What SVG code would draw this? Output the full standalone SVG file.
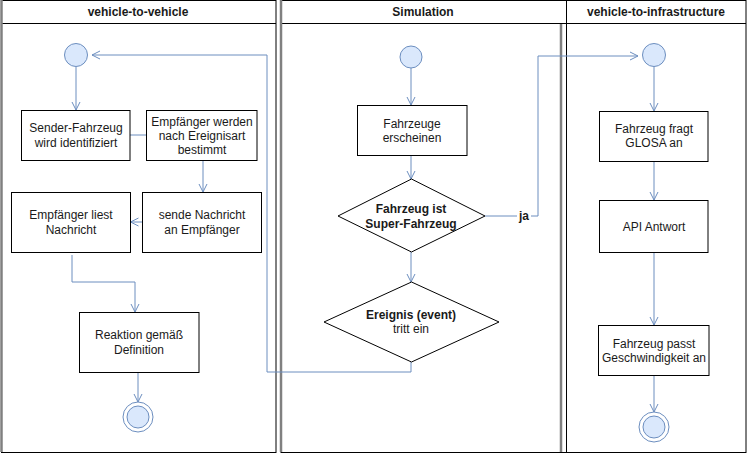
<svg xmlns="http://www.w3.org/2000/svg" width="747" height="454" viewBox="0 0 747 454">
<style>
text{font-family:"Liberation Sans",Arial,sans-serif;font-size:12px;fill:#1a1a1a;text-anchor:middle}
.b{font-weight:bold}
.lane{fill:#fff;stroke:#000;stroke-width:1}
.gray{stroke:#808080;stroke-width:2.5;fill:none}
.box{fill:#fff;stroke:#000;stroke-width:1}
.st{fill:#dae8fc;stroke:#6c8ebf;stroke-width:1}
.c{fill:none;stroke:#6c8ebf;stroke-width:1}
</style>
<defs>
<marker id="a" viewBox="0 0 10 10" refX="9" refY="5" markerWidth="10" markerHeight="10" orient="auto" markerUnits="userSpaceOnUse">
<path d="M1,1 L9,5 L1,9" fill="none" stroke="#6c8ebf" stroke-width="1"/>
</marker>
</defs>
<rect width="747" height="454" fill="#fff"/>
<g id="lane-v2v">
<rect class="lane" x="1.5" y="0.5" width="274.5" height="452"/>
<line x1="1.5" y1="23.5" x2="276" y2="23.5" stroke="#000"/>
<line class="gray" x1="1.5" y1="0" x2="1.5" y2="452"/>
<text class="b" x="138" y="16">vehicle-to-vehicle</text>
</g>
<g id="lane-sim">
<rect class="lane" x="281" y="0.5" width="285.5" height="452"/>
<line x1="281" y1="23.5" x2="566.5" y2="23.5" stroke="#000"/>
<line class="gray" x1="281" y1="0" x2="281" y2="452"/>
<line class="gray" x1="561" y1="24" x2="561" y2="452"/>
<text class="b" x="423" y="16">Simulation</text>
</g>
<g id="lane-v2i">
<rect class="lane" x="566.5" y="0.5" width="179.5" height="452"/>
<line x1="566.5" y1="23.5" x2="746" y2="23.5" stroke="#000"/>
<text class="b" x="656" y="16">vehicle-to-infrastructure</text>
</g>
<g id="connectors">
<path class="c" d="M76,67 V110" marker-end="url(#a)"/>
<path class="c" d="M130,135 H146"/>
<path class="c" d="M203,160 V192" marker-end="url(#a)"/>
<path class="c" d="M142,222 H130.5" marker-end="url(#a)"/>
<path class="c" d="M72,255 V282 H135 V312" marker-end="url(#a)"/>
<path class="c" d="M138,372 V402" marker-end="url(#a)"/>
<path class="c" d="M411,362 V372 H267 V55 H92" marker-end="url(#a)"/>
<path class="c" d="M411,68 V105" marker-end="url(#a)"/>
<path class="c" d="M411,155 V179" marker-end="url(#a)"/>
<path class="c" d="M411,252 V282" marker-end="url(#a)"/>
<path class="c" d="M485,216 H538 V56 H638" marker-end="url(#a)"/>
<rect x="517" y="208" width="14" height="15" fill="#fff"/>
<text class="b" x="524" y="220">ja</text>
<path class="c" d="M654,67 V111" marker-end="url(#a)"/>
<path class="c" d="M654,161 V200" marker-end="url(#a)"/>
<path class="c" d="M654,252 V325" marker-end="url(#a)"/>
<path class="c" d="M654,375 V412" marker-end="url(#a)"/>
</g>
<g id="start-v2v"><circle class="st" cx="76" cy="55" r="11.5"/></g>
<g id="sender">
<rect class="box" x="21.5" y="110.5" width="108.5" height="50"/>
<text x="76" y="132">Sender-Fahrzeug</text>
<text x="76" y="147">wird identifiziert</text>
</g>
<g id="empf-bestimmt">
<rect class="box" x="146.5" y="110.5" width="110.5" height="50"/>
<text x="202" y="126">Empfänger werden</text>
<text x="202" y="140">nach Ereignisart</text>
<text x="202" y="154">bestimmt</text>
</g>
<g id="sende">
<rect class="box" x="142.5" y="192.5" width="119" height="60"/>
<text x="202" y="219">sende Nachricht</text>
<text x="202" y="234">an Empfänger</text>
</g>
<g id="liest">
<rect class="box" x="11.5" y="192.5" width="119" height="60"/>
<text x="71" y="219">Empfänger liest</text>
<text x="71" y="234">Nachricht</text>
</g>
<g id="reaktion">
<rect class="box" x="79.5" y="312.5" width="119.5" height="60"/>
<text x="139" y="339">Reaktion gemäß</text>
<text x="139" y="354">Definition</text>
</g>
<g id="end-v2v">
<circle cx="138" cy="417" r="15" fill="#fff" stroke="#6c8ebf"/>
<circle class="st" cx="138" cy="417" r="11"/>
</g>
<g id="start-sim"><circle class="st" cx="411" cy="57" r="11"/></g>
<g id="erscheinen">
<rect class="box" x="357.5" y="105.5" width="109.5" height="50"/>
<text x="412" y="128">Fahrzeuge</text>
<text x="412" y="142">erscheinen</text>
</g>
<g id="super">
<polygon class="box" points="411.5,179 485,216 411.5,252 338,216"/>
<text class="b" x="411" y="213">Fahrzeug ist</text>
<text class="b" x="411" y="228">Super-Fahrzeug</text>
</g>
<g id="ereignis">
<polygon class="box" points="411.5,282 499,322 411.5,362 324,322"/>
<text class="b" x="411" y="319">Ereignis (event)</text>
<text x="411" y="333">tritt ein</text>
</g>
<g id="start-v2i"><circle class="st" cx="654" cy="55" r="11.5"/></g>
<g id="glosa">
<rect class="box" x="599.5" y="111.5" width="108.5" height="50"/>
<text x="654" y="133">Fahrzeug fragt</text>
<text x="654" y="147">GLOSA an</text>
</g>
<g id="api">
<rect class="box" x="599.5" y="200.5" width="108.5" height="52"/>
<text x="654" y="231">API Antwort</text>
</g>
<g id="passt">
<rect class="box" x="598.5" y="325.5" width="110.5" height="50"/>
<text x="654" y="348">Fahrzeug passt</text>
<text x="654" y="362">Geschwindigkeit an</text>
</g>
<g id="end-v2i">
<circle cx="654" cy="427" r="15" fill="#fff" stroke="#6c8ebf"/>
<circle class="st" cx="654" cy="427" r="11"/>
</g>
</svg>
